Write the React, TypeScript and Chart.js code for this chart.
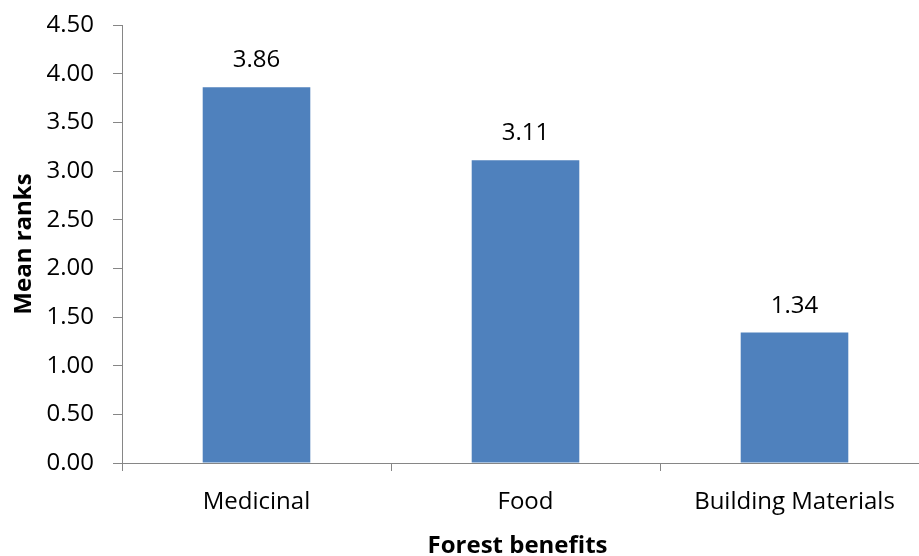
import React, { useEffect, useRef } from "react";
import { Chart, registerables } from "chart.js";

Chart.register(...registerables);

const categories = ["Medicinal", "Food", "Building Materials"];
const meanRanks = [3.86, 3.11, 1.34];
const yTicks = [0, 0.5, 1, 1.5, 2, 2.5, 3, 3.5, 4, 4.5];
const xTitle = "Forest benefits";
const yTitle = "Mean ranks";

const FONT = "'Open Sans', 'Noto Sans', sans-serif";
const AXIS_GRAY = "#868686";
const BAR_BLUE = "#4F81BD";

// Writes each bar's value above it, two decimals.
const valueLabels = {
  id: "valueLabels",
  afterDatasetsDraw(chart: any) {
    const { ctx } = chart;
    const meta = chart.getDatasetMeta(0);
    ctx.save();
    ctx.font = `24px ${FONT}`;
    ctx.fillStyle = "#000";
    ctx.textAlign = "center";
    ctx.textBaseline = "alphabetic";
    meta.data.forEach((bar: any, i: number) => {
      ctx.fillText(meanRanks[i].toFixed(2), bar.x, bar.y - 20);
    });
    ctx.restore();
  },
};

// Bold axis titles: one under the category labels, one rotated beside the value axis.
const axisTitles = {
  id: "axisTitles",
  afterDraw(chart: any) {
    const { ctx, chartArea } = chart;
    ctx.save();
    ctx.font = `bold 24px ${FONT}`;
    ctx.fillStyle = "#000";
    ctx.textAlign = "center";
    ctx.textBaseline = "alphabetic";
    ctx.fillText(xTitle, (chartArea.left + chartArea.right) / 2 - 8, 553);
    ctx.translate(31, (chartArea.top + chartArea.bottom) / 2);
    ctx.rotate(-Math.PI / 2);
    ctx.fillText(yTitle, 0, 0);
    ctx.restore();
  },
};

export default function App() {
  const canvasRef = useRef<HTMLCanvasElement | null>(null);

  useEffect(() => {
    const canvas = canvasRef.current;
    if (!canvas) return;
    const chart = new Chart(canvas, {
      type: "bar",
      data: {
        labels: categories,
        datasets: [
          {
            data: meanRanks,
            backgroundColor: BAR_BLUE,
            borderWidth: 0,
            categoryPercentage: 1,
            barPercentage: 0.4,
          },
        ],
      },
      options: {
        responsive: false,
        animation: false,
        devicePixelRatio: 1,
        layout: { padding: { top: 25, right: 11, left: 0, bottom: 0 } },
        plugins: {
          legend: { display: false },
          tooltip: { enabled: false },
        },
        scales: {
          x: {
            grid: {
              display: true,
              drawOnChartArea: false,
              drawTicks: true,
              tickLength: 8,
              color: AXIS_GRAY,
              offset: true,
            },
            border: { display: true, color: AXIS_GRAY, width: 1 },
            ticks: {
              color: "#000",
              font: { family: FONT, size: 24 },
              padding: 17,
              maxRotation: 0,
            },
            afterFit(scale: any) {
              scale.height = 93;
            },
          },
          y: {
            min: 0,
            max: 4.5,
            afterBuildTicks(scale: any) {
              scale.ticks = yTicks.map((v) => ({ value: v }));
            },
            grid: {
              display: true,
              drawOnChartArea: false,
              drawTicks: true,
              tickLength: 9,
              color: AXIS_GRAY,
            },
            border: { display: true, color: AXIS_GRAY, width: 1 },
            ticks: {
              color: "#000",
              font: { family: FONT, size: 24 },
              padding: 19,
              callback: (v: any) => Number(v).toFixed(2),
            },
            afterFit(scale: any) {
              scale.width = 122;
              // the top label only needs half its height above the plot
              scale.paddingTop = 12;
              scale.paddingBottom = 0;
            },
          },
        },
      },
      plugins: [valueLabels, axisTitles],
    });
    return () => chart.destroy();
  }, []);

  return (
    <div
      style={{
        position: "fixed",
        left: 0,
        top: 0,
        width: 919,
        height: 556,
        overflow: "hidden",
        background: "#fff",
      }}
    >
      <canvas ref={canvasRef} width={940} height={556} />
    </div>
  );
}
